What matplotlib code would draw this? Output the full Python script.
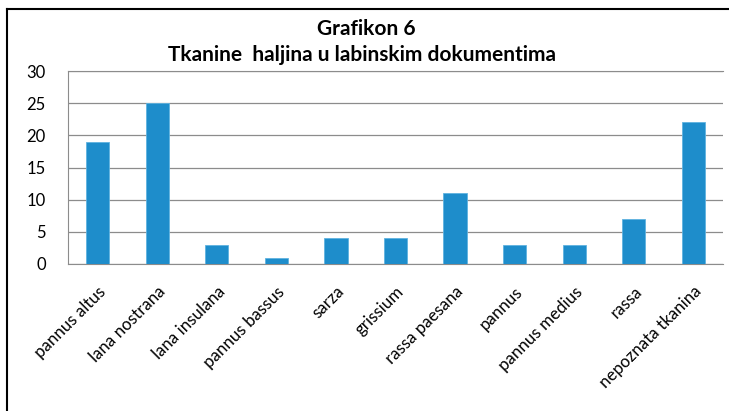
import matplotlib.pyplot as plt
from matplotlib.lines import Line2D

categories = ["pannus altus", "lana nostrana", "lana insulana", "pannus bassus",
              "sarza", "grissium", "rassa paesana", "pannus", "pannus medius",
              "rassa", "nepoznata tkanina"]
values = [19, 25, 3, 1, 4, 4, 11, 3, 3, 7, 22]
yticks = [0, 5, 10, 15, 20, 25, 30]

plt.rcParams['font.family'] = ['Lato', 'DejaVu Sans']

W, H = 729, 411
fig = plt.figure(figsize=(W / 100, H / 100), dpi=100)
ax = fig.add_axes([68 / W, 1 - 264 / H, (723 - 68) / W, (264 - 71) / H])

x = range(len(categories))
ax.bar(x, values, width=0.39, color='#1E8DCB', edgecolor='#5FB3E0', linewidth=0.6, zorder=3)

ax.set_xlim(-0.5, len(categories) - 0.5)
ax.set_ylim(0, 30)
ax.set_yticks(yticks)
ax.set_yticklabels([str(t) for t in yticks], fontsize=12)
ax.set_xticks(list(x))
ax.set_xticklabels(categories, rotation=45, ha='right', rotation_mode='anchor', fontsize=12.2)
ax.tick_params(axis='both', length=0)
ax.tick_params(axis='y', pad=16)
ax.tick_params(axis='x', pad=14)

ax.grid(axis='y', color='#8C8C8C', linewidth=0.9, zorder=0)
for side in ['left', 'top', 'bottom']:
    ax.spines[side].set_color('#8C8C8C')
ax.spines['right'].set_visible(False)

fig.text(366 / W, 1 - 29 / H, "Grafikon 6", ha='center', va='center',
         fontsize=15, fontweight='bold')
fig.text(362 / W, 1 - 55 / H, "Tkanine  haljina u labinskim dokumentima",
         ha='center', va='center', fontsize=15, fontweight='bold')

# outer chart frame (left and top edges visible)
fig.add_artist(Line2D([7 / W, 7 / W], [0, 1 - 9 / H], color='black', linewidth=1.5))
fig.add_artist(Line2D([7 / W, 1], [1 - 9 / H, 1 - 9 / H], color='black', linewidth=1.5))

fig.savefig("out.png", dpi=100)
